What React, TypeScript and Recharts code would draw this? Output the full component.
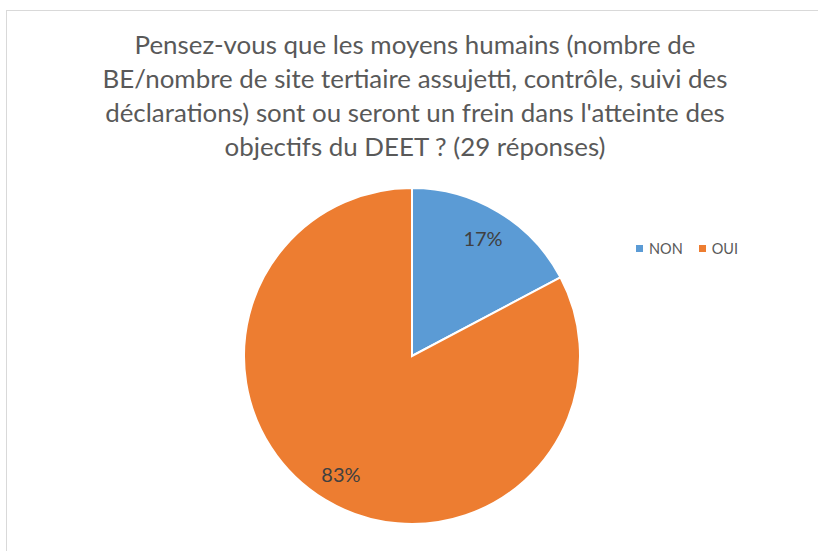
import { PieChart, Pie, Cell, Legend } from 'recharts';

const categories = ['NON', 'OUI'];
const responses = [5, 24];
const percentLabels = ['17%', '83%'];
const sliceColors = ['#5B9BD5', '#ED7D31'];
const titleLines = [
  'Pensez-vous que les moyens humains (nombre de',
  'BE/nombre de site tertiaire assujetti, contrôle, suivi des',
  "déclarations) sont ou seront un frein dans l'atteinte des",
  'objectifs du DEET ? (29 réponses)',
];

const data = categories.map((name, i) => ({ name, value: responses[i], label: percentLabels[i] }));

const FONT = 'Lato, "Open Sans", sans-serif';
const RAD = Math.PI / 180;

const renderLabel = (props: any) => {
  const { cx, cy, midAngle, outerRadius, index } = props;
  const r = outerRadius * 0.82;
  const x = cx + r * Math.cos(-midAngle * RAD);
  const y = cy + r * Math.sin(-midAngle * RAD);
  return (
    <text
      x={x}
      y={y}
      fill="#404040"
      fontSize={20}
      fontFamily={FONT}
      textAnchor="middle"
      dominantBaseline="central"
    >
      {data[index].label}
    </text>
  );
};

const renderLegend = () => (
  <div style={{ display: 'flex', alignItems: 'center', fontFamily: FONT, fontSize: 14.5, color: '#595959' }}>
    {data.map((d, i) => (
      <div key={d.name} style={{ display: 'flex', alignItems: 'center', marginRight: 16 }}>
        <span style={{ width: 7, height: 7, background: sliceColors[i], marginRight: 6 }} />
        <span>{d.name}</span>
      </div>
    ))}
  </div>
);

export default function App() {
  return (
    <div style={{ position: 'fixed', left: 0, top: 0, width: 818, height: 551, background: '#fff', overflow: 'hidden' }}>
      <div
        style={{
          position: 'absolute',
          left: 6,
          top: 10,
          width: 830,
          height: 560,
          border: '1px solid #D9D9D9',
          boxSizing: 'border-box',
        }}
      />
      <div
        style={{
          position: 'absolute',
          left: 0,
          top: 27,
          width: 830,
          textAlign: 'center',
          fontFamily: FONT,
          fontSize: 25.9,
          lineHeight: '34px',
          color: '#595959',
        }}
      >
        {titleLines.map((t) => (
          <div key={t}>{t}</div>
        ))}
      </div>
      <div style={{ position: 'absolute', left: 0, top: 0 }}>
        <PieChart width={818} height={551}>
          <Pie
            data={data}
            dataKey="value"
            nameKey="name"
            cx={407}
            cy={334}
            outerRadius={168}
            startAngle={90}
            endAngle={-270}
            stroke="#FFFFFF"
            strokeWidth={2}
            label={renderLabel}
            labelLine={false}
            isAnimationActive={false}
          >
            {data.map((d, i) => (
              <Cell key={d.name} fill={sliceColors[i]} />
            ))}
          </Pie>
          <Legend
            content={renderLegend}
            layout="horizontal"
            verticalAlign="top"
            align="left"
            wrapperStyle={{ position: 'absolute', left: 636, top: 240, width: 170 }}
          />
        </PieChart>
      </div>
    </div>
  );
}
